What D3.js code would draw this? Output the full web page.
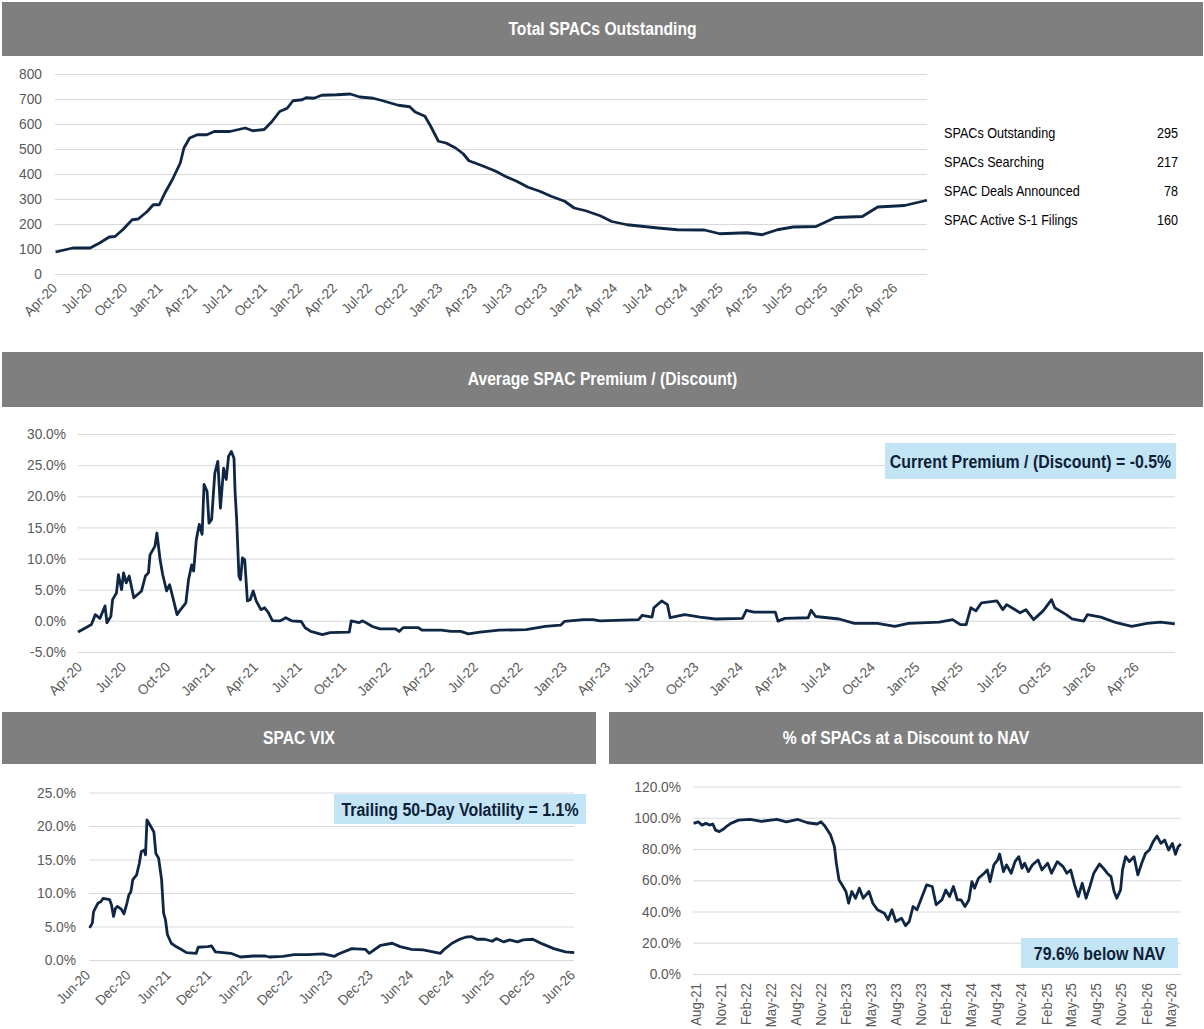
<!DOCTYPE html>
<html>
<head>
<meta charset="utf-8">
<script src="https://cdn.jsdelivr.net/npm/d3@7"></script>
<style>
  body { margin: 0; background: #fff; }
</style>
</head>
<body>
<div id="chart"></div>
<script>
// dates are decimal years (2021.5 = start of July 2021)
let outstandingDates = [2020.253, 2020.375, 2020.499, 2020.567, 2020.635, 2020.677, 2020.731, 2020.799, 2020.842, 2020.906,
  2020.949, 2020.992, 2021.032, 2021.085, 2021.142, 2021.168, 2021.209, 2021.263, 2021.332, 2021.385, 2021.496, 2021.606,
  2021.660, 2021.742, 2021.797, 2021.852, 2021.906, 2021.947, 2022.013, 2022.041, 2022.097, 2022.152, 2022.261, 2022.356,
  2022.425, 2022.520, 2022.589, 2022.699, 2022.781, 2022.820, 2022.890, 2022.931, 2022.986, 2023.040, 2023.109, 2023.163,
  2023.204, 2023.300, 2023.396, 2023.463, 2023.545, 2023.627, 2023.710, 2023.791, 2023.888, 2023.956, 2024.038, 2024.141,
  2024.224, 2024.334, 2024.554, 2024.691, 2024.884, 2024.994, 2025.187, 2025.297, 2025.405, 2025.517, 2025.681, 2025.819,
  2026.012, 2026.122, 2026.314, 2026.474]
let outstandingCounts = [88, 104, 104, 124, 148, 150, 177, 217, 220, 250,
  277, 277, 324, 377, 444, 504, 544, 557, 557, 570, 570, 584,
  573, 578, 610, 650, 663, 693, 697, 705, 703, 715, 717, 720,
  708, 703, 693, 675, 669, 648, 631, 591, 531, 524, 504, 481,
  453, 433, 411, 391, 371, 347, 331, 311, 291, 264, 253, 233,
  210, 197, 184, 177, 176, 161, 165, 157, 177, 188, 190, 226,
  230, 268, 274, 295]

let statLabels = ["SPACs Outstanding", "SPACs Searching", "SPAC Deals Announced", "SPAC Active S-1 Filings"]
let statValues = [295, 217, 78, 160]

let premiumDates = [2020.243, 2020.287, 2020.319, 2020.341, 2020.367, 2020.396, 2020.407, 2020.429, 2020.439, 2020.461,
  2020.472, 2020.490, 2020.501, 2020.516, 2020.533, 2020.559, 2020.603, 2020.625, 2020.642, 2020.651, 2020.679, 2020.690,
  2020.708, 2020.723, 2020.745, 2020.762, 2020.778, 2020.804, 2020.821, 2020.854, 2020.869, 2020.887, 2020.898, 2020.913,
  2020.930, 2020.946, 2020.957, 2020.974, 2020.985, 2021.000, 2021.018, 2021.035, 2021.050, 2021.068, 2021.083, 2021.096,
  2021.112, 2021.127, 2021.133, 2021.142, 2021.155, 2021.164, 2021.175, 2021.188, 2021.203, 2021.219, 2021.236, 2021.253,
  2021.280, 2021.301, 2021.323, 2021.345, 2021.389, 2021.421, 2021.454, 2021.509, 2021.531, 2021.563, 2021.629, 2021.672,
  2021.782, 2021.793, 2021.836, 2021.858, 2021.913, 2021.956, 2022.044, 2022.065, 2022.087, 2022.174, 2022.196, 2022.305,
  2022.360, 2022.415, 2022.458, 2022.524, 2022.633, 2022.786, 2022.895, 2022.982, 2023.004, 2023.113, 2023.167,
  2023.206, 2023.425, 2023.446, 2023.501, 2023.512, 2023.556, 2023.589, 2023.604, 2023.687, 2023.774, 2023.862, 2024.015,
  2024.037, 2024.080, 2024.201, 2024.216, 2024.255, 2024.387, 2024.404, 2024.430, 2024.562, 2024.649, 2024.780, 2024.878,
  2024.955, 2025.130, 2025.206, 2025.250, 2025.283, 2025.309, 2025.338, 2025.370, 2025.458, 2025.491, 2025.513, 2025.589,
  2025.622, 2025.666, 2025.720, 2025.768, 2025.786, 2025.851, 2025.884, 2025.950, 2025.972, 2026.048, 2026.136, 2026.223,
  2026.311, 2026.387, 2026.468]
let premiumValues = [-1.8, -1.1, -0.6, 1.0, 0.4, 2.4, -0.3, 0.7, 3.4, 4.5,
  7.4, 5.0, 7.7, 6.1, 7.2, 3.7, 4.8, 7.2, 7.7, 10.6, 12.0, 14.1,
  9.8, 7.4, 4.8, 5.8, 4.0, 1.0, 1.7, 2.9, 6.6, 9.0, 8.0, 13.0,
  15.5, 13.9, 21.9, 20.8, 15.7, 16.3, 23.7, 25.6, 18.1, 24.5, 22.7, 26.4,
  27.2, 26.1, 20.8, 16.3, 7.2, 6.6, 10.1, 9.8, 3.2, 3.4, 4.8, 3.2,
  1.8, 2.1, 1.3, 0.05, 0.0, 0.5, 0.0, -0.1, -1.1, -1.7, -2.2, -1.9,
  -1.8, 0.0, -0.3, 0.0, -0.9, -1.3, -1.3, -1.7, -1.1, -1.1, -1.5, -1.5,
  -1.7, -1.7, -2.1, -1.8, -1.5, -1.4, -0.9, -0.7, -0.1, 0.2, 0.2,
  0.0, 0.2, 0.9, 0.6, 2.1, 3.2, 2.6, 0.5, 1.0, 0.6, 0.3, 0.4,
  1.7, 1.4, 1.4, -0.05, 0.4, 0.5, 1.7, 0.7, 0.3, -0.4, -0.4, -0.9,
  -0.4, -0.2, 0.2, -0.6, -0.6, 2.1, 1.6, 2.9, 3.2, 1.8, 2.6, 1.3,
  1.8, 0.2, 1.6, 3.4, 2.1, 1.0, 0.3, -0.05, 1.0, 0.6, -0.3, -0.9,
  -0.4, -0.2, -0.5]

let vixDates = [2020.422, 2020.456, 2020.471, 2020.504, 2020.528, 2020.561, 2020.589, 2020.670, 2020.693, 2020.718,
  2020.742, 2020.765, 2020.813, 2020.846, 2020.884, 2020.907, 2020.932, 2020.956, 2021.003, 2021.036, 2021.061, 2021.098,
  2021.113, 2021.131, 2021.170, 2021.217, 2021.241, 2021.275, 2021.312, 2021.337, 2021.360, 2021.384, 2021.432, 2021.479,
  2021.551, 2021.621, 2021.741, 2021.765, 2021.883, 2021.931, 2021.979, 2022.169, 2022.288, 2022.454, 2022.597, 2022.644,
  2022.811, 2022.954, 2023.121, 2023.311, 2023.453, 2023.502, 2023.667, 2023.834, 2023.882, 2024.025, 2024.167, 2024.263,
  2024.405, 2024.548, 2024.762, 2024.809, 2024.905, 2025.000, 2025.072, 2025.143, 2025.214, 2025.309, 2025.404, 2025.453,
  2025.547, 2025.618, 2025.714, 2025.786, 2025.904, 2026.023, 2026.165, 2026.309, 2026.418]
let vixValues = [4.8, 5.5, 7.2, 8.0, 8.5, 8.7, 9.2, 9.0, 8.2, 6.5,
  7.7, 8.0, 7.6, 6.9, 8.5, 9.7, 10.2, 12.0, 12.7, 14.4, 16.2, 16.4,
  15.7, 20.9, 20.1, 19.1, 15.9, 15.2, 12.0, 7.0, 6.0, 3.8, 2.5, 2.1,
  1.6, 1.1, 1.0, 1.9, 2.0, 2.1, 1.2, 1.0, 0.45, 0.6, 0.6, 0.45,
  0.55, 0.8, 0.8, 0.9, 0.55, 0.9, 1.7, 1.6, 1.0, 2.2, 2.5, 2.0,
  1.6, 1.5, 1.0, 1.6, 2.5, 3.1, 3.4, 3.5, 3.1, 3.1, 2.8, 3.2,
  2.7, 3.0, 2.7, 3.0, 3.1, 2.4, 1.7, 1.2, 1.1]

let discountDates = [2021.554, 2021.600, 2021.638, 2021.677, 2021.715, 2021.746, 2021.773, 2021.811, 2021.849, 2021.888,
  2021.926, 2022.003, 2022.118, 2022.233, 2022.386, 2022.482, 2022.597, 2022.693, 2022.789, 2022.828, 2022.866, 2022.924,
  2022.962, 2022.981, 2023.008, 2023.039, 2023.077, 2023.104, 2023.135, 2023.173, 2023.211, 2023.250, 2023.307, 2023.346,
  2023.392, 2023.461, 2023.499, 2023.537, 2023.576, 2023.633, 2023.672, 2023.710, 2023.748, 2023.787, 2023.825, 2023.883,
  2023.940, 2023.979, 2024.036, 2024.075, 2024.113, 2024.151, 2024.190, 2024.228, 2024.266, 2024.305, 2024.335, 2024.362,
  2024.401, 2024.458, 2024.489, 2024.516, 2024.554, 2024.592, 2024.612, 2024.650, 2024.681, 2024.727, 2024.765, 2024.803,
  2024.834, 2024.861, 2024.899, 2024.938, 2024.995, 2025.034, 2025.091, 2025.130, 2025.187, 2025.245, 2025.283, 2025.321,
  2025.360, 2025.398, 2025.437, 2025.475, 2025.513, 2025.552, 2025.609, 2025.648, 2025.686, 2025.724, 2025.755, 2025.782,
  2025.820, 2025.839, 2025.870, 2025.908, 2025.954, 2025.993, 2026.031, 2026.069, 2026.108, 2026.146, 2026.185, 2026.223,
  2026.261, 2026.300, 2026.338, 2026.369, 2026.396, 2026.422]
let discountValues = [96.4, 97.4, 95.3, 96.4, 95.3, 96.0, 92.1, 91.1, 92.6, 94.7,
  96.4, 98.5, 98.9, 97.7, 98.9, 97.4, 98.9, 96.8, 96.0, 97.4, 94.7, 88.9,
  81.5, 70.9, 60.2, 57.0, 52.8, 45.3, 52.8, 48.5, 54.9, 48.5, 52.8, 45.3,
  41.1, 38.9, 34.7, 41.1, 33.6, 35.7, 30.9, 33.6, 43.2, 41.1, 47.4, 57.0,
  56.0, 44.3, 47.4, 53.8, 49.6, 56.0, 47.4, 47.4, 43.2, 47.4, 59.1, 54.9,
  61.3, 64.5, 66.6, 59.1, 69.8, 73.0, 76.8, 65.5, 69.8, 64.5, 71.9, 75.1,
  67.7, 70.9, 65.5, 69.8, 73.0, 66.6, 70.9, 64.5, 71.9, 68.7, 64.5, 66.6,
  57.0, 49.6, 58.1, 48.5, 56.0, 64.5, 70.4, 67.7, 64.5, 62.3, 52.8, 48.5,
  53.8, 66.6, 75.1, 71.9, 75.1, 63.4, 70.9, 77.2, 79.4, 84.7, 88.3, 83.6,
  85.7, 79.4, 83.6, 76.6, 81.5, 83.2]

let quarterTicks = ["2020-04", "2020-07", "2020-10", "2021-01", "2021-04", "2021-07", "2021-10", "2022-01", "2022-04",
  "2022-07", "2022-10", "2023-01", "2023-04", "2023-07", "2023-10", "2024-01", "2024-04", "2024-07", "2024-10",
  "2025-01", "2025-04", "2025-07", "2025-10", "2026-01", "2026-04"]
let vixTicks = ["2020-06", "2020-12", "2021-06", "2021-12", "2022-06", "2022-12", "2023-06", "2023-12", "2024-06",
  "2024-12", "2025-06", "2025-12", "2026-06"]
let navTicks = ["2021-08", "2021-11", "2022-02", "2022-05", "2022-08", "2022-11", "2023-02", "2023-05", "2023-08",
  "2023-11", "2024-02", "2024-05", "2024-08", "2024-11", "2025-02", "2025-05", "2025-08", "2025-11", "2026-02", "2026-05"]

// no narrow face installed, so text gets squeezed horizontally instead
let font = "'Liberation Sans', Arial, sans-serif"
let narrow = 0.87
let lineColor = "#0f2744"
let gridColor = "#d9d9d9"
let labelColor = "#595959"
let bandColor = "#7f7f7f"
let boxColor = "#c3e4f4"

let W = 1204, H = 1029

let svg = d3.select("#chart").append("svg")
    .attr("width", W)
    .attr("height", H)
    .style("font-family", font)

let parseMonth = d3.utcParse("%Y-%m")
let fmtMonth = d3.utcFormat("%b-%y")

function yearToDate(y) {
    let yr = Math.floor(y)
    let a = Date.UTC(yr, 0, 1), b = Date.UTC(yr + 1, 0, 1)
    return new Date(a + (y - yr) * (b - a))
}

function squeezed(parent, x, y, k) {
    return parent.append("text")
        .attr("transform", `translate(${x},${y}) scale(${k},1)`)
}

function header(x, y, w, h, title) {
    svg.append("rect")
        .attr("x", x).attr("y", y)
        .attr("width", w).attr("height", h)
        .attr("fill", bandColor)
    squeezed(svg, x + w / 2, y + h / 2, narrow)
        .attr("text-anchor", "middle")
        .attr("dominant-baseline", "central")
        .attr("fill", "#fff")
        .attr("font-size", 18)
        .attr("font-weight", "bold")
        .text(title)
}

function callout(x, y, w, h, txt) {
    svg.append("rect")
        .attr("x", x).attr("y", y)
        .attr("width", w).attr("height", h)
        .attr("fill", boxColor)
    squeezed(svg, x + w / 2, y + h / 2 + 1, 0.86)
        .attr("text-anchor", "middle")
        .attr("dominant-baseline", "central")
        .attr("fill", "#0d1f38")
        .attr("font-size", 18.5)
        .attr("font-weight", "bold")
        .text(txt)
}

// one line panel: gridlines, y labels, rotated date labels, line
function linePanel(p) {
    let x = d3.scaleUtc().domain(p.domain.map(yearToDate)).range(p.xRange)
    let y = d3.scaleLinear().domain(p.yDomain).range(p.yRange)
    let g = svg.append("g")

    let yAxis = d3.axisLeft(y).tickValues(p.yTicks).tickSize(-(p.xRange[1] - p.xRange[0])).tickFormat(p.yFormat)
    g.append("g")
        .attr("transform", `translate(${p.xRange[0]},0)`)
        .call(yAxis)
        .call(a => a.select(".domain").remove())
        .call(a => a.selectAll(".tick line").attr("stroke", gridColor).attr("stroke-width", 1))
        .call(a => a.selectAll(".tick text")
            .attr("x", null)
            .attr("transform", `translate(${-p.yLabelGap},0) scale(0.95,1)`)
            .attr("fill", labelColor)
            .attr("font-size", 14.5)
            .attr("font-family", font))

    let ticks = p.xTicks.map(parseMonth)
    let base = p.yRange[0]
    g.selectAll(".xlab")
        .data(ticks)
        .enter()
        .append("text")
        .attr("class", "xlab")
        .attr("transform", d => `translate(${x(d) + p.xLabelDx},${base + p.xLabelDy}) rotate(${p.rotate}) scale(0.95,1)`)
        .attr("text-anchor", "end")
        .attr("dominant-baseline", p.rotate == -90 ? "central" : "auto")
        .attr("fill", labelColor)
        .attr("font-size", 14)
        .text(d => fmtMonth(d))

    let pts = p.dates.map((d, i) => [yearToDate(d), p.values[i]])
    g.append("path")
        .datum(pts)
        .attr("fill", "none")
        .attr("stroke", lineColor)
        .attr("stroke-width", 2.8)
        .attr("stroke-linejoin", "round")
        .attr("d", d3.line().x(d => x(d[0])).y(d => y(d[1])))
}

// ---- Total SPACs Outstanding
header(2, 2, 1201, 54, "Total SPACs Outstanding")
linePanel({
    domain: [2020.249, 2026.474], xRange: [55, 927],
    yDomain: [0, 800], yRange: [274, 74], yTicks: d3.range(0, 801, 100),
    yFormat: d3.format("d"), yLabelGap: 13,
    dates: outstandingDates, values: outstandingCounts,
    xTicks: quarterTicks, xLabelDx: 3, xLabelDy: 15, rotate: -45
})

let stats = svg.append("g")
statLabels.forEach((d, i) => {
    squeezed(stats, 944, 133 + i * 29, narrow)
        .attr("dominant-baseline", "central")
        .attr("font-size", 14.5)
        .attr("fill", "#000")
        .text(d)
})
statValues.forEach((d, i) => {
    squeezed(stats, 1178, 133 + i * 29, narrow)
        .attr("text-anchor", "end")
        .attr("dominant-baseline", "central")
        .attr("font-size", 14.5)
        .attr("fill", "#000")
        .text(d)
})

// ---- Average SPAC Premium / (Discount)
header(2, 352, 1201, 55, "Average SPAC Premium / (Discount)")
linePanel({
    domain: [2020.243, 2026.469], xRange: [78, 1175],
    yDomain: [-5, 30], yRange: [652, 434], yTicks: d3.range(-5, 31, 5),
    yFormat: d => d.toFixed(1) + "%", yLabelGap: 12,
    dates: premiumDates, values: premiumValues,
    xTicks: quarterTicks, xLabelDx: 4, xLabelDy: 16, rotate: -45
})
callout(885, 443, 291, 36, "Current Premium / (Discount) = -0.5%")

// ---- SPAC VIX
header(2, 712, 594, 52, "SPAC VIX")
linePanel({
    domain: [2020.415, 2026.415], xRange: [89, 574],
    yDomain: [0, 25], yRange: [960, 792.5], yTicks: d3.range(0, 26, 5),
    yFormat: d => d.toFixed(1) + "%", yLabelGap: 13,
    dates: vixDates, values: vixValues,
    xTicks: vixTicks, xLabelDx: 2, xLabelDy: 16, rotate: -45
})
callout(334, 794, 252, 30, "Trailing 50-Day Volatility = 1.1%")

// ---- % of SPACs at a Discount to NAV
header(609, 712, 594, 52, "% of SPACs at a Discount to NAV")
linePanel({
    domain: [2021.548, 2026.424], xRange: [693, 1181],
    yDomain: [0, 120], yRange: [974, 786.5], yTicks: d3.range(0, 121, 20),
    yFormat: d => d.toFixed(1) + "%", yLabelGap: 12,
    dates: discountDates, values: discountValues,
    xTicks: navTicks, xLabelDx: 0, xLabelDy: 9, rotate: -90
})
callout(1021, 938, 157, 30, "79.6% below NAV")
</script>
</body>
</html>
